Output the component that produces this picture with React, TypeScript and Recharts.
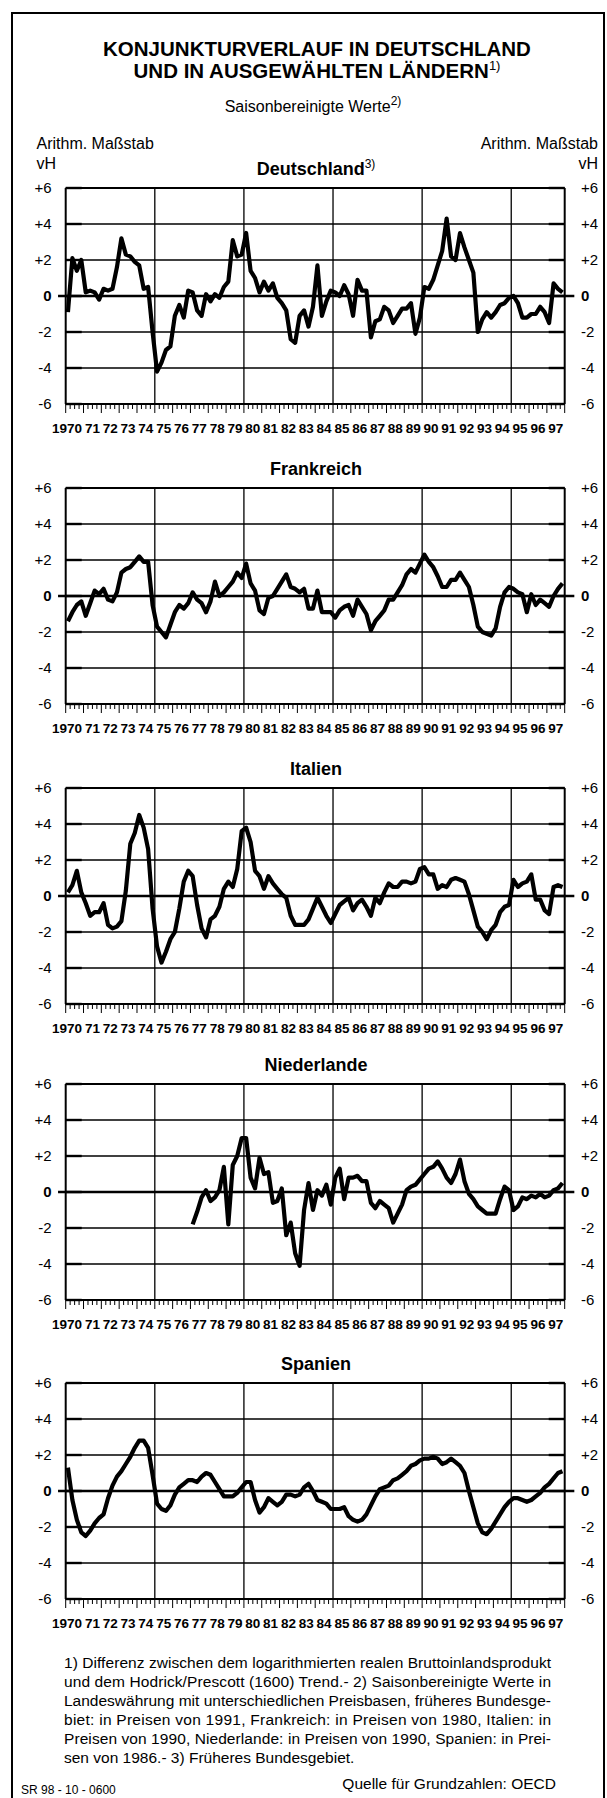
import React from 'react'
import { LineChart, Line, XAxis, YAxis, ReferenceLine } from 'recharts'

const FONT = '"Liberation Sans", Arial, Helvetica, sans-serif'

// Abweichung vom Trend in vH, Quartale 1970 Q1 bis 1997 Q4
const DEUTSCHLAND = [
  -0.9, 2.1, 1.4, 2.0, 0.2, 0.3, 0.2, -0.2, 0.4, 0.3, 0.4, 1.6, 3.2, 2.3, 2.2, 1.9,
  1.7, 0.4, 0.5, -2.0, -4.2, -3.7, -3.0, -2.8, -1.1, -0.5, -1.2, 0.3, 0.2, -0.8, -1.1, 0.1,
  -0.3, 0.1, -0.1, 0.5, 0.8, 3.1, 2.2, 2.3, 3.5, 1.4, 1.0, 0.2, 0.8, 0.3, 0.7, -0.1,
  -0.4, -0.8, -2.4, -2.6, -1.1, -0.8, -1.7, -0.6, 1.7, -1.1, -0.3, 0.3, 0.2, 0.0, 0.6, 0.1,
  -1.1, 0.9, 0.3, 0.3, -2.3, -1.4, -1.3, -0.6, -0.8, -1.5, -1.1, -0.7, -0.7, -0.4, -2.1, -1.2,
  0.5, 0.4, 0.9, 1.7, 2.5, 4.3, 2.2, 2.0, 3.5, 2.7, 2.0, 1.3, -2.0, -1.3, -0.9, -1.2,
  -0.9, -0.5, -0.4, -0.1, 0.0, -0.4, -1.2, -1.2, -1.0, -1.0, -0.6, -0.9, -1.5, 0.7, 0.4, 0.2,
]

const FRANKREICH = [
  -1.4, -0.9, -0.5, -0.3, -1.1, -0.4, 0.3, 0.1, 0.4, -0.2, -0.3, 0.2, 1.3, 1.5, 1.6, 1.9,
  2.2, 1.9, 1.9, -0.5, -1.7, -2.0, -2.3, -1.6, -0.9, -0.5, -0.7, -0.4, 0.2, -0.2, -0.4, -0.9,
  -0.3, 0.8, 0.0, 0.2, 0.5, 0.8, 1.3, 1.0, 1.8, 0.7, 0.3, -0.8, -1.0, -0.1, 0.0, 0.4,
  0.8, 1.2, 0.5, 0.4, 0.2, 0.4, -0.7, -0.7, 0.3, -0.9, -0.9, -0.9, -1.2, -0.8, -0.6, -0.5,
  -1.1, -0.2, -0.6, -1.0, -1.9, -1.4, -1.1, -0.8, -0.2, -0.2, 0.2, 0.6, 1.2, 1.5, 1.3, 1.8,
  2.3, 1.9, 1.6, 1.1, 0.5, 0.5, 0.9, 0.9, 1.3, 0.9, 0.5, -0.5, -1.7, -2.0, -2.1, -2.2,
  -1.8, -0.6, 0.2, 0.5, 0.4, 0.2, 0.1, -0.9, 0.1, -0.5, -0.2, -0.4, -0.6, 0.0, 0.4, 0.7,
]

const ITALIEN = [
  0.2, 0.6, 1.4, 0.2, -0.4, -1.1, -0.9, -0.9, -0.4, -1.6, -1.8, -1.7, -1.4, 0.3, 2.9, 3.5,
  4.5, 3.8, 2.6, -0.7, -2.8, -3.7, -3.1, -2.4, -2.0, -0.7, 0.8, 1.4, 1.1, -0.5, -1.8, -2.3,
  -1.3, -1.1, -0.6, 0.4, 0.8, 0.5, 1.5, 3.6, 3.8, 3.0, 1.4, 1.1, 0.4, 1.1, 0.7, 0.4,
  0.1, -0.1, -1.1, -1.6, -1.6, -1.6, -1.3, -0.7, -0.1, -0.6, -1.1, -1.5, -1.0, -0.5, -0.3, -0.1,
  -0.8, -0.4, -0.2, -0.6, -1.1, -0.1, -0.4, 0.2, 0.7, 0.5, 0.5, 0.8, 0.8, 0.7, 0.8, 1.5,
  1.6, 1.2, 1.2, 0.4, 0.6, 0.5, 0.9, 1.0, 0.9, 0.8, 0.1, -0.8, -1.7, -2.0, -2.4, -1.9,
  -1.6, -0.9, -0.6, -0.5, 0.9, 0.5, 0.7, 0.8, 1.2, -0.2, -0.2, -0.8, -1.0, 0.5, 0.6, 0.5,
]

// Niederlande erst ab 1977 Q1
const NIEDERLANDE_START = 28
const NIEDERLANDE = [
  -1.8, -1.1, -0.3, 0.1, -0.5, -0.3, 0.1, 1.4, -1.8, 1.5, 2.0, 3.0, 3.0, 0.8, 0.2, 1.9,
  1.0, 1.1, -0.6, -0.5, 0.2, -2.4, -1.7, -3.4, -4.1, -1.0, 0.5, -1.0, 0.1, -0.2, 0.4, -0.7,
  0.8, 1.3, -0.4, 0.8, 0.8, 0.9, 0.6, 0.6, -0.6, -0.9, -0.5, -0.7, -0.9, -1.7, -1.2, -0.7,
  0.1, 0.3, 0.4, 0.7, 1.0, 1.3, 1.4, 1.7, 1.3, 0.8, 0.5, 1.0, 1.8, 0.6, -0.1, -0.4,
  -0.8, -1.0, -1.2, -1.2, -1.2, -0.4, 0.3, 0.1, -1.0, -0.8, -0.3, -0.4, -0.2, -0.3, -0.1, -0.3,
  -0.2, 0.1, 0.2, 0.5,
]

const SPANIEN = [
  1.3, -0.5, -1.6, -2.3, -2.5, -2.2, -1.8, -1.5, -1.3, -0.4, 0.3, 0.8, 1.1, 1.5, 1.9, 2.4,
  2.8, 2.8, 2.4, 0.9, -0.7, -1.0, -1.1, -0.8, -0.2, 0.2, 0.4, 0.6, 0.6, 0.5, 0.8, 1.0,
  0.9, 0.5, 0.1, -0.3, -0.3, -0.3, -0.1, 0.2, 0.5, 0.5, -0.5, -1.2, -0.9, -0.4, -0.6, -0.8,
  -0.6, -0.2, -0.2, -0.3, -0.2, 0.2, 0.4, 0.0, -0.5, -0.6, -0.7, -1.0, -1.0, -1.0, -0.9, -1.4,
  -1.6, -1.7, -1.6, -1.3, -0.8, -0.3, 0.1, 0.2, 0.3, 0.6, 0.7, 0.9, 1.1, 1.4, 1.5, 1.7,
  1.8, 1.8, 1.9, 1.8, 1.5, 1.6, 1.8, 1.6, 1.4, 1.0, 0.0, -0.9, -1.8, -2.3, -2.4, -2.1,
  -1.7, -1.3, -0.9, -0.6, -0.4, -0.4, -0.5, -0.6, -0.5, -0.3, -0.1, 0.2, 0.4, 0.7, 1.0, 1.1,
]

const Y_TICKS = [-6, -4, -2, 0, 2, 4, 6]
const GRID_Y = [-4, -2, 2, 4]
const GRID_YEARS = [1975, 1980, 1985, 1990, 1995]
const FIRST_YEAR = 1970
const LAST_YEAR = 1998
const QUARTER_TICKS = Array.from({ length: (LAST_YEAR - FIRST_YEAR) * 4 + 1 }, (_, k) => FIRST_YEAR + k / 4)

const FOOTNOTES = [
  '1) Differenz zwischen dem logarithmierten realen Bruttoinlandsprodukt',
  'und dem Hodrick/Prescott (1600) Trend.- 2) Saisonbereinigte Werte in',
  'Landeswährung mit unterschiedlichen Preisbasen, früheres Bundesge-',
  'biet: in Preisen von 1991, Frankreich: in Preisen von 1980, Italien: in',
  'Preisen von 1990, Niederlande: in Preisen von 1990, Spanien: in Prei-',
  'sen von 1986.- 3) Früheres Bundesgebiet.',
]

const PANELS = [
  { title: 'Deutschland', sup: '3)', values: DEUTSCHLAND, start: 0, top: 188 },
  { title: 'Frankreich', sup: '', values: FRANKREICH, start: 0, top: 488 },
  { title: 'Italien', sup: '', values: ITALIEN, start: 0, top: 788 },
  { title: 'Niederlande', sup: '', values: NIEDERLANDE, start: NIEDERLANDE_START, top: 1084 },
  { title: 'Spanien', sup: '', values: SPANIEN, start: 0, top: 1383 },
]

const W = 607
const PLOT_LEFT = 65.7
const PLOT_RIGHT = 564.7
const PLOT_H = 216
const MARGIN_TOP = 8

const fmt = (v: number) => (v > 0 ? `+${v}` : `${v}`)

function LeftTick({ x, y, payload }: any) {
  const v = payload.value
  return (
    <g>
      <line x1={x + 14} x2={x + 30} y1={y} y2={y} stroke="#000" strokeWidth={2.4} />
      <text x={x} y={y} dy="0.36em" textAnchor="end" fontSize={15} fontFamily={FONT}
        fontWeight={v === 0 ? 'bold' : 'normal'} fill="#000">{fmt(v)}</text>
    </g>
  )
}

function RightTick({ x, y, payload }: any) {
  const v = payload.value
  return (
    <g>
      <line x1={x - 16.3} x2={x - 32.3} y1={y} y2={y} stroke="#000" strokeWidth={2.4} />
      <text x={x} y={y} dy="0.36em" textAnchor="start" fontSize={15} fontFamily={FONT}
        fontWeight={v === 0 ? 'bold' : 'normal'} fill="#000">{fmt(v)}</text>
    </g>
  )
}

function QuarterTick({ x, y, payload }: any) {
  const v = payload.value
  const isYear = Number.isInteger(v)
  const yr = Math.round(v)
  const mid = 8.9
  return (
    <g>
      <line x1={x} x2={x} y1={y} y2={y + (isYear ? 9 : 5)} stroke="#000" strokeWidth={1} />
      {isYear && yr < LAST_YEAR && (
        <text x={x + mid + (yr === FIRST_YEAR ? 7.5 : 0)} y={y + 28.5}
          textAnchor={yr === FIRST_YEAR ? 'end' : 'middle'} fontSize={13.5}
          fontWeight="bold" fontFamily={FONT} fill="#000">
          {yr === FIRST_YEAR ? String(yr) : String(yr).slice(2)}
        </text>
      )}
    </g>
  )
}

function Panel({ values, start, top }: { values: number[]; start: number; top: number }) {
  const data = values.map((v, i) => ({ t: FIRST_YEAR + (start + i) / 4 + 0.125, v }))
  return (
    <div style={{ position: 'absolute', left: 0, top: top - MARGIN_TOP }}>
      <LineChart width={W} height={MARGIN_TOP + PLOT_H + 40} data={data}
        margin={{ top: MARGIN_TOP, right: 0, bottom: 0, left: 0 }}>
        <XAxis dataKey="t" type="number" domain={[FIRST_YEAR, LAST_YEAR]} ticks={QUARTER_TICKS}
          interval={0} tick={<QuarterTick />} tickSize={0} tickMargin={0} axisLine={false}
          tickLine={false} height={40} allowDataOverflow />
        <YAxis domain={[-6, 6]} ticks={Y_TICKS} interval={0} width={PLOT_LEFT} tickSize={0}
          tickMargin={14} axisLine={false} tickLine={false} tick={<LeftTick />} allowDataOverflow />
        <YAxis yAxisId="r" orientation="right" domain={[-6, 6]} ticks={Y_TICKS} interval={0}
          width={W - PLOT_RIGHT} tickSize={0} tickMargin={16.3} axisLine={false} tickLine={false}
          tick={<RightTick />} allowDataOverflow />
        {GRID_Y.map((g) => (
          <ReferenceLine key={'h' + g} y={g} stroke="#000" strokeWidth={1.3} />
        ))}
        {GRID_YEARS.map((g) => (
          <ReferenceLine key={'v' + g} x={g} stroke="#000" strokeWidth={1.3} />
        ))}
        <ReferenceLine y={6} stroke="#000" strokeWidth={2} />
        <ReferenceLine y={-6} stroke="#000" strokeWidth={2} />
        <ReferenceLine x={FIRST_YEAR} stroke="#000" strokeWidth={2} />
        <ReferenceLine x={LAST_YEAR} stroke="#000" strokeWidth={2} />
        <ReferenceLine segment={[{ x: 1969.57, y: 0 }, { x: 1998.54, y: 0 }]} ifOverflow="visible"
          stroke="#000" strokeWidth={2.5} />
        <Line dataKey="v" type="linear" stroke="#000" strokeWidth={4.2} dot={false}
          strokeLinejoin="round" isAnimationActive={false} />
      </LineChart>
    </div>
  )
}

export default function App() {
  return (
    <div style={{ position: 'absolute', left: 0, top: 0, width: W, height: 1798, background: '#fff', overflow: 'hidden' }}>
      <svg width={W} height={1798} style={{ position: 'absolute', left: 0, top: 0 }} fontFamily={FONT} fill="#000">
        <rect x={12} y={13} width={592} height={1810} fill="none" stroke="#000" strokeWidth={2} />
        <text x={317} y={55.5} textAnchor="middle" fontSize={20.5} fontWeight="bold">KONJUNKTURVERLAUF IN DEUTSCHLAND</text>
        <text x={317} y={77.5} textAnchor="middle" fontSize={20.5} fontWeight="bold">
          UND IN AUSGEWÄHLTEN LÄNDERN<tspan fontSize={13} fontWeight="normal" dy={-8}>1)</tspan>
        </text>
        <text x={313} y={112} textAnchor="middle" fontSize={16}>
          Saisonbereinigte Werte<tspan fontSize={12} dy={-7}>2)</tspan>
        </text>
        <text x={36.5} y={149} fontSize={16}>Arithm. Maßstab</text>
        <text x={36.5} y={169} fontSize={16}>vH</text>
        <text x={598} y={149} fontSize={16} textAnchor="end">Arithm. Maßstab</text>
        <text x={598} y={169} fontSize={16} textAnchor="end">vH</text>
        {PANELS.map((p) => (
          <text key={p.title} x={316} y={p.top - 13} textAnchor="middle" fontSize={18} fontWeight="bold">
            {p.title}
            {p.sup && <tspan fontSize={12} fontWeight="normal" dy={-7}>{p.sup}</tspan>}
          </text>
        ))}
        {FOOTNOTES.map((line, i) => (
          <text key={i} x={64} y={1668 + i * 19} fontSize={15.5}
            {...(i < FOOTNOTES.length - 1 ? { textLength: 487, lengthAdjust: 'spacing' } : {})}>
            {line}
          </text>
        ))}
        <text x={556} y={1789} fontSize={15.5} textAnchor="end">Quelle für Grundzahlen: OECD</text>
        <text x={21} y={1793.5} fontSize={12}>SR 98 - 10 - 0600</text>
      </svg>
      {PANELS.map((p) => (
        <Panel key={p.title} values={p.values} start={p.start} top={p.top} />
      ))}
    </div>
  )
}
